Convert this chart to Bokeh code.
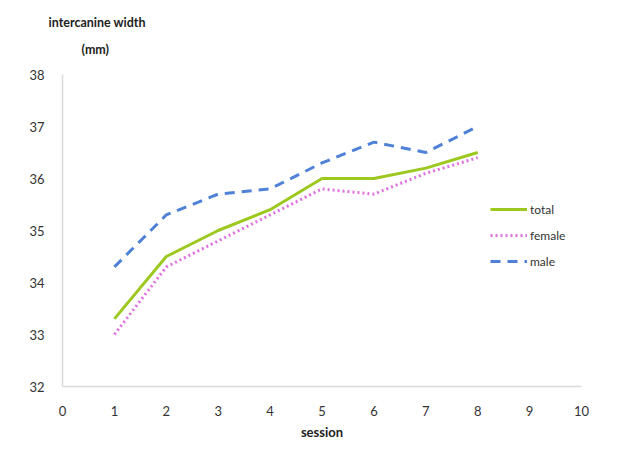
from bokeh.plotting import figure
from bokeh.models import Range1d, Title, Legend, LegendItem, FixedTicker
from bokeh.embed import file_html
from bokeh.resources import INLINE

sessions = [1, 2, 3, 4, 5, 6, 7, 8]
total = [33.3, 34.5, 35.0, 35.4, 36.0, 36.0, 36.2, 36.5]
female = [33.0, 34.3, 34.8, 35.3, 35.8, 35.7, 36.1, 36.4]
male = [34.3, 35.3, 35.7, 35.8, 36.3, 36.7, 36.5, 37.0]
x_ticks = [0, 1, 2, 3, 4, 5, 6, 7, 8, 9, 10]
y_ticks = [32, 33, 34, 35, 36, 37, 38]

FONT = "Lato"

p = figure(width=606, height=443, output_backend="svg", toolbar_location=None,
           x_range=Range1d(0, 10), y_range=Range1d(32, 38),
           min_border_left=62, min_border_right=25, min_border_top=74, min_border_bottom=57)
p.outline_line_color = None
p.xgrid.grid_line_color = None
p.ygrid.grid_line_color = None

for ax in (p.xaxis[0], p.yaxis[0]):
    ax.axis_line_color = "#d9d9d9"
    ax.axis_line_width = 1.5
    ax.major_tick_line_color = None
    ax.minor_tick_line_color = None
    ax.major_label_text_font = FONT
    ax.major_label_text_font_size = "13px"
    ax.major_label_text_color = "#333333"

p.xaxis.ticker = FixedTicker(ticks=x_ticks)
p.yaxis.ticker = FixedTicker(ticks=y_ticks)
p.xaxis.major_label_standoff = 13
p.yaxis.major_label_standoff = 12

p.xaxis.axis_label = "session"
p.xaxis.axis_label_text_font = FONT
p.xaxis.axis_label_text_font_style = "bold"
p.xaxis.axis_label_text_font_size = "13px"
p.xaxis.axis_label_standoff = 5
p.xaxis.axis_label_text_color = "#222222"

r_total = p.line(sessions, total, line_color="#9dc81f", line_width=3)
r_female = p.line(sessions, female, line_color="#e070e0", line_width=3, line_dash="2 3")
r_male = p.line(sessions, male, line_color="#4f82d6", line_width=3, line_dash="10 7")

p.add_layout(Title(text="(mm)", align="left", offset=19, standoff=35, text_font=FONT,
                   text_font_style="bold", text_font_size="12.5px", text_color="#222222"), "above")
p.add_layout(Title(text="intercanine width", align="left", offset=-14, standoff=-15, text_font=FONT,
                   text_font_style="bold", text_font_size="12.5px", text_color="#222222"), "above")

legend = Legend(items=[LegendItem(label="total", renderers=[r_total]),
                       LegendItem(label="female", renderers=[r_female]),
                       LegendItem(label="male", renderers=[r_male])],
                location=(428, 115), border_line_color=None, background_fill_alpha=0,
                padding=0, margin=0, spacing=6, glyph_width=37, glyph_height=20,
                label_standoff=3, label_text_font=FONT, label_text_font_size="12px",
                label_text_color="#333333", label_height=20)
p.add_layout(legend, "center")

open("out.html", "w").write(file_html(p, INLINE))
